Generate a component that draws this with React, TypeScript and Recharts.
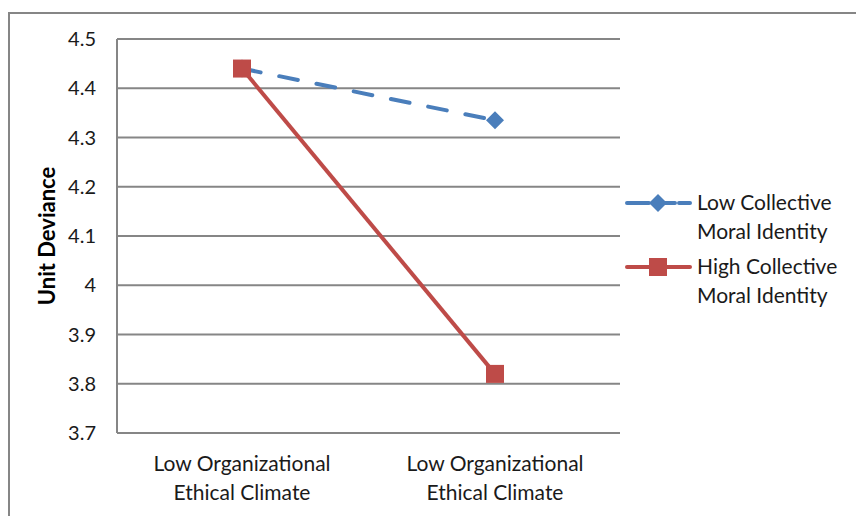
import React from "react"
import { LineChart, Line, XAxis, YAxis, CartesianGrid, Label } from "recharts"

const categories = ["Low Organizational Ethical Climate", "Low Organizational Ethical Climate"]
const lowCollective = [4.44, 4.335]
const highCollective = [4.44, 3.82]
const yTicks = [3.7, 3.8, 3.9, 4, 4.1, 4.2, 4.3, 4.4, 4.5]
const seriesNames = ["Low Collective Moral Identity", "High Collective Moral Identity"]

const BLUE = "#4a7ebb"
const RED = "#be4b48"
const GRID = "#868686"
const TEXT = "#1a1a1a"
const FONT = "Lato, 'Liberation Sans', sans-serif"

const data = categories.map((c, i) => ({
  key: i,
  label: c,
  low: lowCollective[i],
  high: highCollective[i],
}))

const Diamond = ({ cx, cy }: any) => (
  <path d={`M${cx},${cy - 9} L${cx + 9},${cy} L${cx},${cy + 9} L${cx - 9},${cy} Z`} fill={BLUE} />
)

const Square = ({ cx, cy }: any) => (
  <rect x={cx - 9} y={cy - 9} width={18} height={18} fill={RED} />
)

const XTick = ({ x, y, payload }: any) => {
  const label: string = categories[payload.value] ?? ""
  const words = label.split(" ")
  return (
    <text x={x} y={y} textAnchor="middle" fill={TEXT} fontSize={21} fontFamily={FONT}>
      <tspan x={x} dy={30}>{words.slice(0, 2).join(" ")}</tspan>
      <tspan x={x} dy={29}>{words.slice(2).join(" ")}</tspan>
    </text>
  )
}

const LegendBox = () => (
  <svg width={231} height={130} style={{ position: "absolute", left: 625, top: 193 }}>
    {seriesNames.map((name, i) => {
      const y = 10 + i * 64
      const words = name.split(" ")
      return (
        <g key={name}>
          <line x1={2} x2={65} y1={y} y2={y} stroke={i === 0 ? BLUE : RED} strokeWidth={4}
            strokeDasharray={i === 0 ? "22 4" : undefined} strokeLinecap="round" />
          {i === 0 ? <Diamond cx={33} cy={y} /> : <Square cx={33} cy={y} />}
          <text x={72} y={y + 7} fontSize={21} fontFamily={FONT} fill={TEXT}>
            <tspan x={72}>{words.slice(0, 2).join(" ")}</tspan>
            <tspan x={72} dy={29}>{words.slice(2).join(" ")}</tspan>
          </text>
        </g>
      )
    })}
  </svg>
)

export default function App() {
  return (
    <div style={{ position: "absolute", left: 0, top: 0, width: 856, height: 516, background: "#fff", overflow: "hidden" }}>
      <div style={{ position: "absolute", left: 8, top: 12, width: 860, height: 520, border: `2px solid ${GRID}` }} />
      <div style={{ position: "absolute", left: 0, top: 0 }}>
        <LineChart width={856} height={516} data={data} margin={{ top: 39, right: 236, bottom: 0, left: 0 }}>
          <CartesianGrid vertical={false} stroke={GRID} strokeWidth={2} />
          <XAxis dataKey="key" type="category" height={83} tickLine={false} axisLine={{ stroke: GRID, strokeWidth: 2 }}
            tick={<XTick />} interval={0} padding={{ left: 125, right: 125 }} />
          <YAxis domain={[3.7, 4.5]} ticks={yTicks} width={117} tickLine={false} tickSize={0} tickMargin={21}
            axisLine={{ stroke: GRID, strokeWidth: 2 }} tick={{ fill: TEXT, fontSize: 20, fontFamily: FONT }}
            interval={0}>
            <Label value="Unit Deviance" angle={-90} position="insideLeft" offset={47}
              style={{ fontWeight: "bold", fontSize: 22, fontFamily: FONT, fill: "#000", textAnchor: "middle" }} />
          </YAxis>
          <Line dataKey="low" name={seriesNames[0]} stroke={BLUE} strokeWidth={4} strokeDasharray="19 19"
            strokeLinecap="round" dot={<Diamond />} activeDot={false} isAnimationActive={false} />
          <Line dataKey="high" name={seriesNames[1]} stroke={RED} strokeWidth={4}
            dot={<Square />} activeDot={false} isAnimationActive={false} />
        </LineChart>
      </div>
      <LegendBox />
    </div>
  )
}
